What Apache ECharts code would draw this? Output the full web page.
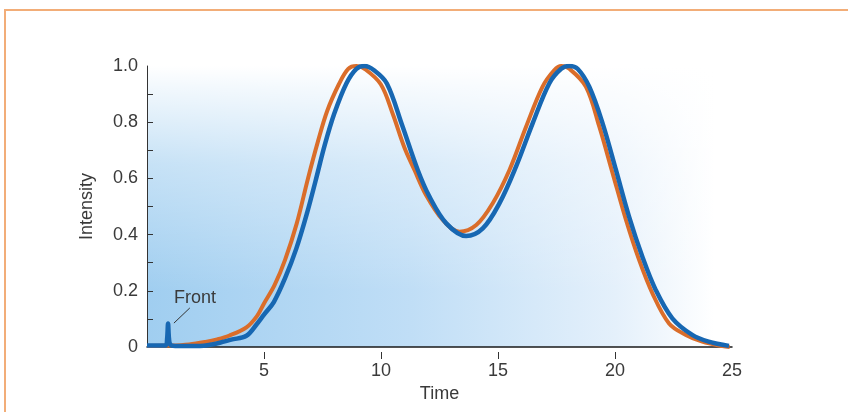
<!DOCTYPE html>
<html>
<head>
<meta charset="utf-8">
<script src="https://cdn.jsdelivr.net/npm/echarts@6/dist/echarts.min.js"></script>
<style>
html,body{margin:0;padding:0;background:#fff;}
#chart{width:848px;height:412px;}
</style>
</head>
<body>
<div id="chart"></div>
<script>
// ---- data ----
var orangeTime = [0, 1, 1.8, 2.5, 3.0, 3.5, 4.25, 4.7, 5.0, 5.45, 5.9, 6.4, 6.88, 7.3, 7.7, 8.2, 8.6, 8.95, 9.3, 9.99, 10.5, 11.0, 11.43, 11.93, 12.64, 13.35, 14.07, 14.77, 15.49, 16.2, 16.9, 17.4, 17.7, 18.05, 18.76, 19.33, 19.9, 20.47, 21.03, 21.6, 22.31, 23.03, 23.73, 24.59, 24.9];
var orangeValue = [0.004, 0.005, 0.009, 0.018, 0.027, 0.04, 0.07, 0.11, 0.155, 0.22, 0.31, 0.44, 0.60, 0.73, 0.84, 0.935, 0.99, 1.0, 0.99, 0.935, 0.83, 0.71, 0.63, 0.54, 0.452, 0.41, 0.434, 0.511, 0.63, 0.784, 0.926, 0.985, 1.0, 0.99, 0.926, 0.784, 0.618, 0.452, 0.31, 0.191, 0.084, 0.043, 0.019, 0.003, 0.0];
var blueTime = [0, 0.8, 0.86, 0.9, 0.94, 1.0, 1.2, 2.26, 2.7, 3.11, 3.6, 4.25, 4.68, 5.0, 5.42, 5.9, 6.38, 6.85, 7.2, 7.6, 8.0, 8.52, 8.95, 9.3, 9.7, 10.25, 10.9, 11.57, 12.07, 12.79, 13.64, 14.35, 15.06, 15.77, 16.48, 17.19, 17.7, 18.05, 18.4, 18.9, 19.47, 20.04, 20.6, 21.17, 21.74, 22.45, 23.3, 24.0, 24.87];
var blueValue = [0.005, 0.005, 0.03, 0.084, 0.03, 0.008, 0.004, 0.004, 0.008, 0.015, 0.026, 0.04, 0.08, 0.115, 0.16, 0.245, 0.35, 0.48, 0.59, 0.72, 0.83, 0.938, 0.99, 1.0, 0.985, 0.938, 0.79, 0.63, 0.535, 0.44, 0.395, 0.422, 0.511, 0.642, 0.796, 0.938, 0.99, 1.0, 0.99, 0.926, 0.796, 0.63, 0.464, 0.321, 0.203, 0.102, 0.043, 0.019, 0.004];
var xTickValues = [5, 10, 15, 20];
var xLabelValues = [5, 10, 15, 20, 25];
var yTickValues = [0.1, 0.2, 0.3, 0.4, 0.5, 0.6, 0.7, 0.8, 0.9];
var yLabelValues = [0, 0.2, 0.4, 0.6, 0.8, 1.0];
var frontLeader = [[1.15, 0.085], [1.83, 0.139]];
var frontLabelPos = [2.05, 0.176];
var frontLabel = 'Front';

function zip(a, b) { return a.map(function (v, i) { return [v, b[i]]; }); }

var FONT = "'Liberation Sans', Arial, Helvetica, sans-serif";
var TXT = '#3a3a3a';
var G = {left: 147, top: 66, right: 116, bottom: 65};
var GW = 848 - G.left - G.right, GH = 412 - G.top - G.bottom;

var chart = echarts.init(document.getElementById('chart'), null, {renderer: 'canvas'});
chart.setOption({
  animation: false,
  backgroundColor: '#fff',
  textStyle: {fontFamily: FONT},
  graphic: [
    {type: 'rect', silent: true, z: -2, shape: {x: G.left, y: G.top, width: GW, height: GH},
      style: {fill: new echarts.graphic.LinearGradient(0, 0, 1, 0, [
        {offset: 0, color: 'rgb(160,206,240)'},
        {offset: 0.45, color: 'rgb(192,222,246)'},
        {offset: 0.8, color: 'rgb(228,240,251)'},
        {offset: 0.97, color: 'rgb(255,255,255)'},
        {offset: 1, color: 'rgb(255,255,255)'}
      ])}},
    {type: 'rect', silent: true, z: -1, shape: {x: G.left, y: G.top, width: GW, height: GH},
      style: {fill: new echarts.graphic.LinearGradient(0, 0, 0, 1, [
        {offset: 0, color: 'rgba(255,255,255,1)'},
        {offset: 0.08, color: 'rgba(255,255,255,0.85)'},
        {offset: 0.35, color: 'rgba(255,255,255,0.4)'},
        {offset: 0.8, color: 'rgba(255,255,255,0)'},
        {offset: 1, color: 'rgba(255,255,255,0)'}
      ])}},
    {type: 'line', silent: true, shape: {x1: 5, y1: 10, x2: 848, y2: 10}, style: {stroke: '#F2AD78', lineWidth: 2}},
    {type: 'line', silent: true, shape: {x1: 5, y1: 9, x2: 5, y2: 412}, style: {stroke: '#F2AD78', lineWidth: 2}}
  ],
  grid: {left: G.left, top: G.top, right: G.right, bottom: G.bottom, containLabel: false},
  xAxis: [
    {type: 'value', min: 0, max: 25, position: 'bottom',
      axisLine: {show: true, lineStyle: {color: '#1a1a1a', width: 1.5}},
      axisTick: {show: false}, axisLabel: {show: false}, splitLine: {show: false}},
    {type: 'value', min: 0, max: 25, position: 'bottom', offset: 5,
      axisLine: {show: false},
      axisTick: {show: true, customValues: xTickValues, length: 7, inside: false, lineStyle: {color: '#333', width: 1}},
      axisLabel: {show: true, customValues: xLabelValues, margin: 10, color: TXT, fontSize: 18, fontFamily: FONT},
      splitLine: {show: false},
      name: 'Time', nameLocation: 'middle', nameGap: 32,
      nameTextStyle: {color: TXT, fontSize: 18, fontFamily: FONT}}
  ],
  yAxis: {
    type: 'value', min: 0, max: 1,
    axisLine: {show: true, lineStyle: {color: '#333', width: 1}},
    axisTick: {show: true, inside: true, length: 6, customValues: yTickValues, lineStyle: {color: '#333'}},
    axisLabel: {show: true, customValues: yLabelValues, margin: 9, color: TXT, fontSize: 18, fontFamily: FONT,
      formatter: function (v) { return v === 0 ? '0' : v.toFixed(1); }},
    splitLine: {show: false},
    name: 'Intensity', nameLocation: 'middle', nameGap: 51, nameRotate: 90,
    nameTextStyle: {color: TXT, fontSize: 18, fontFamily: FONT}
  },
  series: [
    {type: 'line', name: 'fit', xAxisIndex: 0, data: zip(orangeTime, orangeValue),
      showSymbol: false, smooth: 0.35, silent: true, z: 3,
      lineStyle: {color: '#DA6D2A', width: 4}},
    {type: 'line', name: 'measured', xAxisIndex: 0, data: zip(blueTime, blueValue),
      showSymbol: false, smooth: 0.35, silent: true, z: 4,
      lineStyle: {color: '#1767B2', width: 4.5},
      markLine: {silent: true, symbol: 'none', animation: false,
        lineStyle: {color: '#333', width: 1, type: 'solid'}, label: {show: false},
        data: [[{coord: frontLeader[0]}, {coord: frontLeader[1]}]]},
      markPoint: {silent: true, symbol: 'circle', symbolSize: 0, animation: false,
        label: {show: true, position: 'inside', formatter: frontLabel, color: TXT, fontSize: 18, fontFamily: FONT},
        data: [{coord: frontLabelPos}]}}
  ]
});
</script>
</body>
</html>
